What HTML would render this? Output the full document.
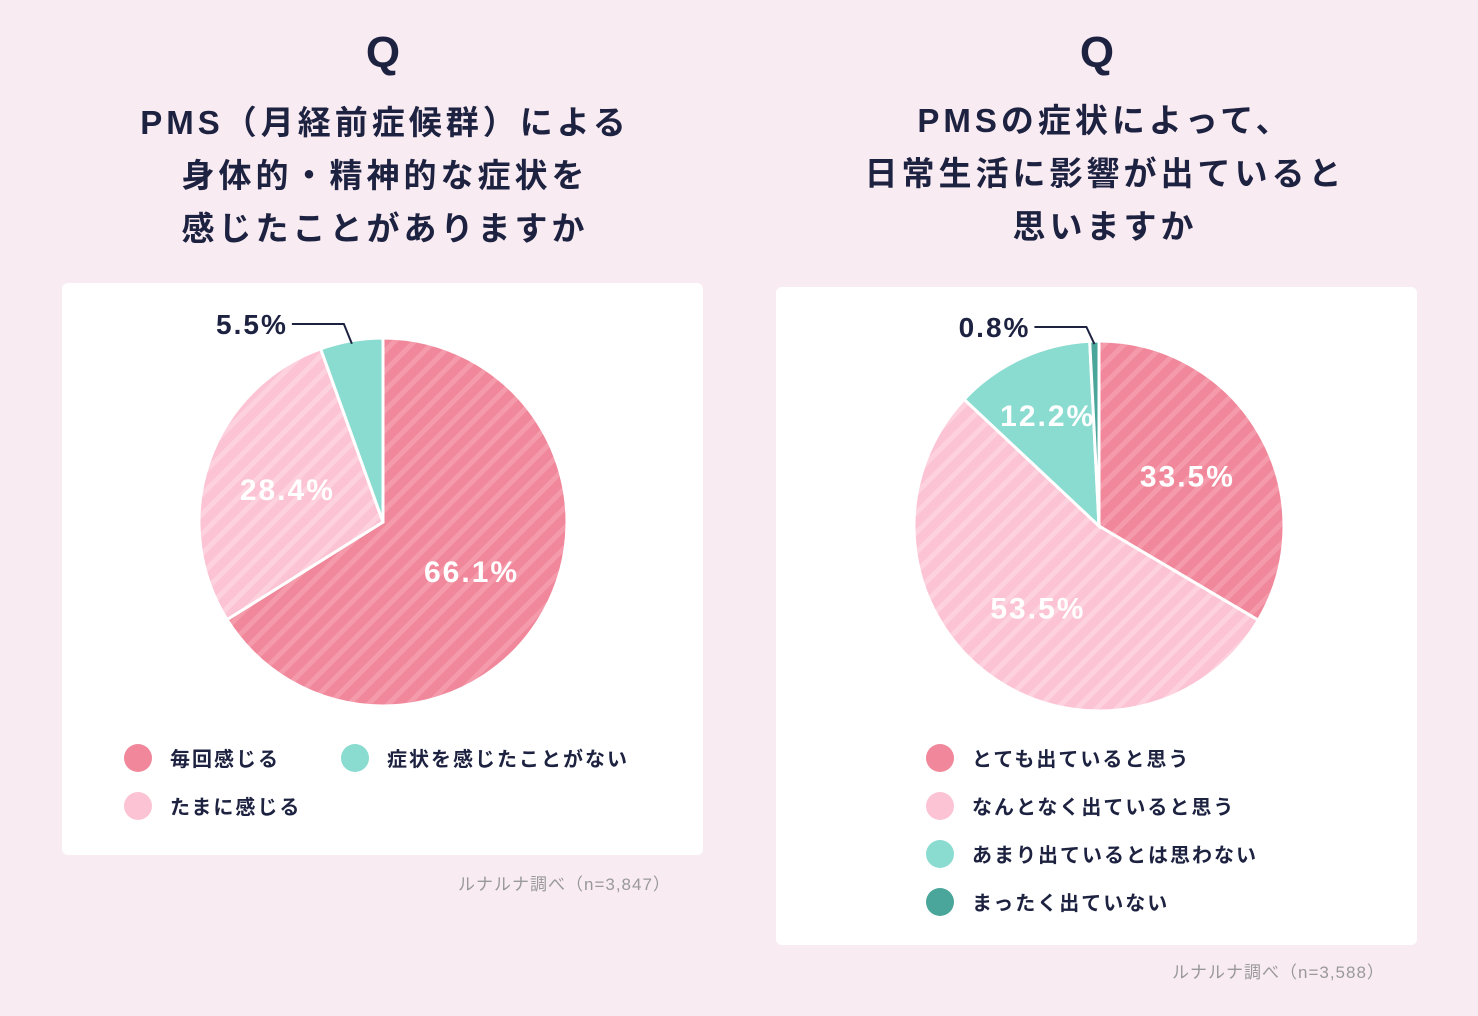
<!DOCTYPE html>
<html><head><meta charset="utf-8">
<style>
body{margin:0;width:1478px;height:1016px;background:#f9ebf2;font-family:"Liberation Sans","Noto Sans CJK JP",sans-serif;color:#1d2240;position:relative;overflow:hidden}
.t{position:absolute;text-align:center;font-weight:bold;font-size:33px;line-height:53px;letter-spacing:4px}
.q{position:absolute;font-size:44px;font-weight:bold;text-align:center;width:100px}
.card{position:absolute;background:#fff;border-radius:6px}
.src{position:absolute;font-size:17px;color:#999;letter-spacing:1px}
.leg{position:absolute;font-size:20px;font-weight:bold;letter-spacing:2px;display:flex;align-items:center}
.leg i{display:inline-block;width:28px;height:28px;border-radius:50%;margin-right:18px}
svg{position:absolute;left:0;top:0}
</style></head><body>
<div class="q" style="left:333px;top:28px">Q</div>
<div class="t" style="left:80px;top:96px;width:610px">PMS（月経前症候群）による<br>身体的・精神的な症状を<br>感じたことがありますか</div>
<div class="q" style="left:1047px;top:28px">Q</div>
<div class="t" style="left:800px;top:94px;width:610px">PMSの症状によって、<br>日常生活に影響が出ていると<br>思いますか</div>
<div class="card" style="left:62px;top:283px;width:641px;height:572px"></div>
<div class="card" style="left:776px;top:287px;width:641px;height:658px"></div>
<div class="src" style="left:458px;top:870px">ルナルナ調べ（n=3,847）</div>
<div class="src" style="left:1172px;top:958px">ルナルナ調べ（n=3,588）</div>

<div class="leg" style="left:124px;top:743px"><i style="background:#f0879a"></i>毎回感じる</div>
<div class="leg" style="left:341px;top:743px"><i style="background:#8adbd0"></i>症状を感じたことがない</div>
<div class="leg" style="left:124px;top:791px"><i style="background:#fcc3d4"></i>たまに感じる</div>
<div class="leg" style="left:926px;top:743px"><i style="background:#f0879a"></i>とても出ていると思う</div>
<div class="leg" style="left:926px;top:791px"><i style="background:#fcc3d4"></i>なんとなく出ていると思う</div>
<div class="leg" style="left:926px;top:839px"><i style="background:#8adbd0"></i>あまり出ているとは思わない</div>
<div class="leg" style="left:926px;top:887px"><i style="background:#4aa59a"></i>まったく出ていない</div>

<svg id="s" width="1478" height="1016">
<defs>
<pattern id="p1" width="14" height="14" patternUnits="userSpaceOnUse" patternTransform="rotate(45)"><rect width="14" height="14" fill="#f0879a"/><rect width="5" height="14" fill="#f49aab"/></pattern>
<pattern id="p2" width="14" height="14" patternUnits="userSpaceOnUse" patternTransform="rotate(45)"><rect width="14" height="14" fill="#fcc3d4"/><rect width="5" height="14" fill="#fdd1de"/></pattern>
<pattern id="p3" width="14" height="14" patternUnits="userSpaceOnUse"><rect width="14" height="14" fill="#8adbd0"/></pattern>
<pattern id="p4" width="14" height="14" patternUnits="userSpaceOnUse"><rect width="14" height="14" fill="#4aa59a"/></pattern>
</defs>
</svg>
<script>
const leftValues=[66.1,28.4,5.5];
const leftLabels=["66.1%","28.4%","5.5%"];
const rightValues=[33.5,53.5,12.2,0.8];
const rightLabels=["33.5%","53.5%","12.2%","0.8%"];
const NS="http://www.w3.org/2000/svg";
const svg=document.getElementById('s');
function pie(cx,cy,r,vals,labels,fills,name,insideIdx){
  const tot=vals.reduce((a,b)=>a+b,0);let a0=0;
  vals.forEach((v,i)=>{
    const a1=a0+v/tot*2*Math.PI;
    const x0=cx+r*Math.sin(a0),y0=cy-r*Math.cos(a0),x1=cx+r*Math.sin(a1),y1=cy-r*Math.cos(a1);
    const p=document.createElementNS(NS,'path');
    p.setAttribute('d',`M${cx},${cy}L${x0},${y0}A${r},${r} 0 ${a1-a0>Math.PI?1:0} 1 ${x1},${y1}Z`);
    p.setAttribute('fill',fills[i]);p.setAttribute('stroke','#fff');p.setAttribute('stroke-width','3');
    
    
    svg.appendChild(p);
    const am=(a0+a1)/2;
    if(insideIdx.includes(i)){
      const rr=i===2&&vals.length===4?r*0.66:r*0.55;
      const t=document.createElementNS(NS,'text');
      t.setAttribute('x',cx+rr*Math.sin(am));t.setAttribute('y',cy-rr*Math.cos(am)+11);
      t.setAttribute('text-anchor','middle');t.setAttribute('fill','#fff');t.setAttribute('font-size','30');t.setAttribute('font-weight','bold');t.setAttribute('letter-spacing','2');
      t.textContent=labels[i];
      
      
      svg.appendChild(t);
    } else {
      const ex=cx+(r-3)*Math.sin(am),ey=cy-(r-3)*Math.cos(am);
      const l=document.createElementNS(NS,'polyline');
      l.setAttribute('points',`${ex},${ey} ${ex-8},${cy-r-14} ${ex-60},${cy-r-14}`);
      l.setAttribute('fill','none');l.setAttribute('stroke','#1d2240');l.setAttribute('stroke-width','2');
      
      
      svg.appendChild(l);
      const t=document.createElementNS(NS,'text');
      t.setAttribute('x',ex-64);t.setAttribute('y',cy-r-4);t.setAttribute('text-anchor','end');
      t.setAttribute('fill','#1d2240');t.setAttribute('font-size','28');t.setAttribute('font-weight','bold');t.setAttribute('letter-spacing','2');
      t.textContent=labels[i];
      
      
      svg.appendChild(t);
    }
    a0=a1;
  });
}
pie(383,522,184,leftValues,leftLabels,['url(#p1)','url(#p2)','url(#p3)'],'left',[0,1]);
pie(1099,526,185,rightValues,rightLabels,['url(#p1)','url(#p2)','url(#p3)','url(#p4)'],'right',[0,1,2]);
</script>
</body></html>
